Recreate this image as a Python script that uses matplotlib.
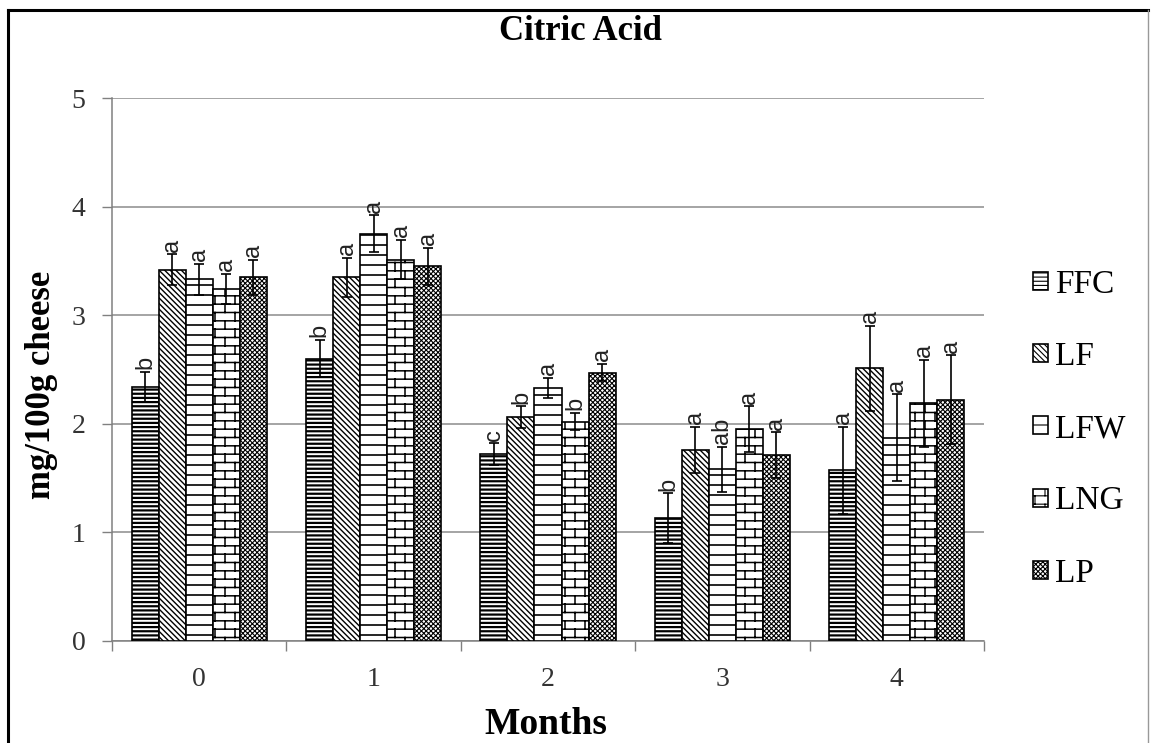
import numpy as np
import matplotlib
matplotlib.use("Agg")
import matplotlib.pyplot as plt
import matplotlib.hatch as mhatch
from matplotlib.path import Path
from matplotlib.lines import Line2D

# ---------------- data ----------------
months = ["0", "1", "2", "3", "4"]
series = ["FFC", "LF", "LFW", "LNG", "LP"]

ffc = [2.34, 2.60, 1.72, 1.13, 1.57]
lf = [3.42, 3.35, 2.06, 1.76, 2.51]
lfw = [3.33, 3.75, 2.33, 1.58, 1.87]
lng = [3.24, 3.51, 2.02, 1.95, 2.19]
lp = [3.35, 3.45, 2.47, 1.71, 2.22]

ffc_err = [0.14, 0.17, 0.10, 0.23, 0.40]
lf_err = [0.14, 0.18, 0.10, 0.21, 0.39]
lfw_err = [0.14, 0.17, 0.09, 0.21, 0.40]
lng_err = [0.14, 0.18, 0.08, 0.21, 0.40]
lp_err = [0.16, 0.17, 0.08, 0.21, 0.41]

ffc_sig = ["b", "b", "c", "b", "a"]
lf_sig = ["a", "a", "b", "a", "a"]
lfw_sig = ["a", "a", "a", "ab", "a"]
lng_sig = ["a", "a", "b", "a", "a"]
lp_sig = ["a", "a", "a", "a", "a"]

yticks = [0, 1, 2, 3, 4, 5]

# ---------------- custom hatches ----------------
class WideLines(mhatch.HatchPatternBase):
    def __init__(self, hatch, density):
        self.num_lines = hatch.count('o') * 10
        self.num_vertices = self.num_lines * 2

    def set_vertices_and_codes(self, vertices, codes):
        steps, stepsize = np.linspace(0.0, 1.0, self.num_lines, False, retstep=True)
        steps += stepsize / 2.
        vertices[0::2, 0] = 0.0
        vertices[0::2, 1] = steps
        vertices[1::2, 0] = 1.0
        vertices[1::2, 1] = steps
        codes[0::2] = Path.MOVETO
        codes[1::2] = Path.LINETO


class Bricks(mhatch.HatchPatternBase):
    R = 12
    C = 5

    def __init__(self, hatch, density):
        self.n = hatch.count('O')
        if self.n:
            self.num_vertices = self.R * 2 + (self.R + 1) * self.C * 2
        else:
            self.num_vertices = 0

    def set_vertices_and_codes(self, vertices, codes):
        R, C = self.R, self.C
        k = 0
        for i in range(R):
            y = (i + 0.5) / R
            vertices[k] = (0.0, y); codes[k] = Path.MOVETO; k += 1
            vertices[k] = (1.0, y); codes[k] = Path.LINETO; k += 1
        for i in range(-1, R):
            y0 = max((i + 0.5) / R, 0.0)
            y1 = min((i + 1.5) / R, 1.0)
            off = 0.5 * (i % 2)
            for c in range(C):
                xx = (c + off + 0.25) / C
                vertices[k] = (xx, y0); codes[k] = Path.MOVETO; k += 1
                vertices[k] = (xx, y1); codes[k] = Path.LINETO; k += 1


mhatch._hatch_types = [mhatch.HorizontalHatch, mhatch.NorthEastHatch,
                       mhatch.SouthEastHatch, WideLines, Bricks]

plt.rcParams['hatch.linewidth'] = 1.0
plt.rcParams['hatch.color'] = 'black'

serif = ['Liberation Serif', 'DejaVu Serif']
sans = ['Liberation Sans', 'DejaVu Sans']

W, H = 1153, 743
fig = plt.figure(figsize=(W / 100, H / 100), dpi=100)
fig.patch.set_facecolor('white')

ax = fig.add_axes([112 / W, 1 - 641 / H, (984 - 112) / W, (641 - 98) / H])

values = [ffc, lf, lfw, lng, lp]
errs = [ffc_err, lf_err, lfw_err, lng_err, lp_err]
sigs = [ffc_sig, lf_sig, lfw_sig, lng_sig, lp_sig]
hatches = ['----', '\\\\\\\\\\\\', 'o', 'O', 'xxxxxxx']
hatch_lw = [1.6, 1.0, 1.2, 1.1, 0.8]

x = np.arange(len(months))
bw = 0.155
handles = []
for i, (name, v, e, s, h) in enumerate(zip(series, values, errs, sigs, hatches)):
    plt.rcParams['hatch.linewidth'] = hatch_lw[i]
    pos = x + (i - 2) * bw
    bars = ax.bar(pos, v, width=bw, color='white', edgecolor='black',
                  linewidth=1.2, hatch=h, label=name, zorder=3)
    for p in bars.patches:
        if hasattr(p, 'set_hatch_linewidth'):
            p.set_hatch_linewidth(hatch_lw[i])
    ax.errorbar(pos, v, yerr=e, fmt='none', ecolor='black', elinewidth=1.2,
                capsize=3.5, capthick=1.2, zorder=4)
    for px, vy, ey, lab in zip(pos, v, e, s):
        ax.annotate(lab, xy=(px, vy + ey), xytext=(0, 2), textcoords='offset points',
                    rotation=90, ha='center', va='bottom', fontsize=17,
                    family=sans, color='#222222', zorder=5)
    handles.append(bars)

ax.set_xlim(-0.5, len(months) - 0.5)
ax.set_ylim(0, 5)
ax.set_yticks(yticks)
ax.set_yticklabels([str(t) for t in yticks], family=serif, fontsize=20, color='#333333')
ax.set_xticks(x)
ax.set_xticklabels(months, family=serif, fontsize=20, color='#333333')
ax.set_xticks(np.arange(-0.5, len(months), 1.0), minor=True)
ax.tick_params(axis='x', which='major', length=0, pad=19)
ax.tick_params(axis='x', which='minor', length=7, width=1, color='#808080', direction='out')
ax.tick_params(axis='y', which='major', length=7, width=1, color='#808080', pad=12)

ax.grid(axis='y', color='#8c8c8c', linewidth=1.1, zorder=0)
ax.set_axisbelow(True)
for sp in ['top', 'right']:
    ax.spines[sp].set_visible(False)
for sp in ['left', 'bottom']:
    ax.spines[sp].set_color('#808080')
    ax.spines[sp].set_linewidth(1.1)

ax.set_ylabel('mg/100g cheese', family=serif, fontsize=25, fontweight='bold')
ax.yaxis.set_label_coords((42 - 112) / (984 - 112), (641 - 385) / (641 - 98))
ax.yaxis.label.set_va('center')
ax.set_xlabel('Months', family=serif, fontsize=27, fontweight='bold')
ax.xaxis.set_label_coords((546 - 112) / (984 - 112), (641 - 724) / (641 - 98))
ax.xaxis.label.set_va('center')

fig.text(580 / W, 1 - 32 / H, 'Citric Acid', family=serif, fontsize=25,
         fontweight='bold', ha='center', va='center')

fig.legend(handles=handles, labels=series, loc='center left',
           bbox_to_anchor=(1033 / W, 1 - 429 / H), frameon=False,
           prop={'family': serif, 'size': 24}, handlelength=0.45,
           handleheight=0.45, handletextpad=0.2, labelspacing=1.25,
           borderaxespad=0, borderpad=0)

# outer frame
fig.add_artist(Line2D([8 / W, 8 / W], [0, 1 - 10 / H], color='black', lw=2.2,
                      transform=fig.transFigure))
fig.add_artist(Line2D([8 / W, 1148 / W], [1 - 10 / H, 1 - 10 / H], color='black', lw=2.2,
                      transform=fig.transFigure))
fig.add_artist(Line2D([1148 / W, 1148 / W], [0, 1 - 10 / H], color='#999999', lw=1.0,
                      transform=fig.transFigure))

fig.savefig('out.png', dpi=100)
